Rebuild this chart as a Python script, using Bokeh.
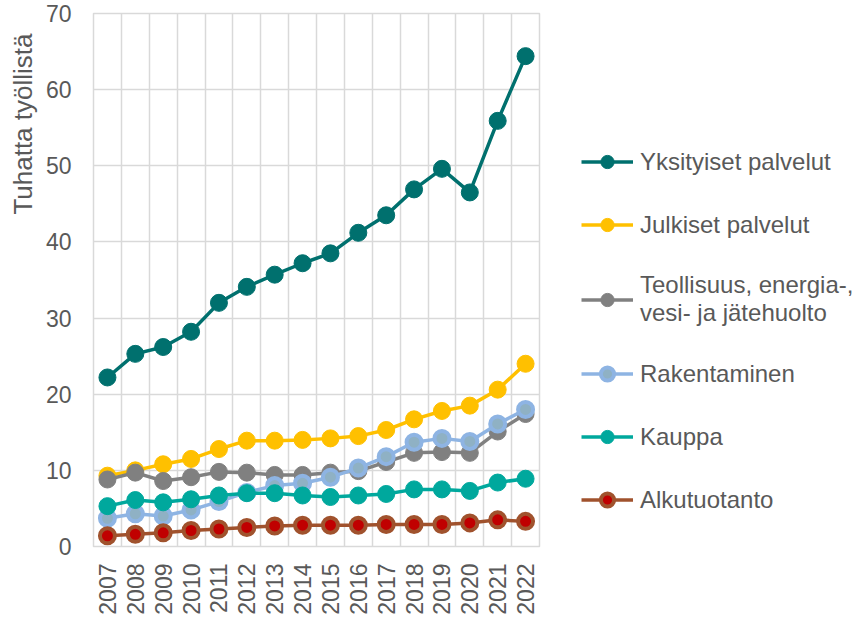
import math
from bokeh.plotting import figure
from bokeh.models import FixedTicker, Legend, LegendItem, Title
from bokeh.embed import file_html
from bokeh.resources import INLINE

years = list(range(2007, 2023))
yksityiset = [22.2, 25.3, 26.2, 28.2, 32.0, 34.1, 35.7, 37.2, 38.5, 41.2, 43.5, 46.9, 49.6, 46.5, 55.9, 64.4]
julkiset = [9.3, 10.0, 10.8, 11.5, 12.8, 13.9, 13.9, 14.0, 14.2, 14.5, 15.3, 16.7, 17.8, 18.5, 20.6, 24.0]
teollisuus = [8.8, 9.7, 8.6, 9.1, 9.8, 9.7, 9.4, 9.4, 9.7, 9.9, 11.1, 12.3, 12.4, 12.3, 15.1, 17.4]
rakentaminen = [3.7, 4.3, 4.0, 4.8, 5.9, 7.1, 8.0, 8.3, 9.1, 10.3, 11.8, 13.7, 14.2, 13.8, 16.1, 18.0]
kauppa = [5.3, 6.1, 5.8, 6.2, 6.7, 7.0, 7.0, 6.7, 6.5, 6.7, 6.9, 7.5, 7.5, 7.3, 8.4, 8.9]
alkutuotanto = [1.4, 1.6, 1.8, 2.1, 2.3, 2.5, 2.7, 2.8, 2.8, 2.8, 2.9, 2.9, 2.9, 3.1, 3.5, 3.3]

labels = ["Yksityiset palvelut", "Julkiset palvelut", "Teollisuus, energia-,\nvesi- ja jätehuolto",
          "Rakentaminen", "Kauppa", "Alkutuotanto"]
y_ticks = [0, 10, 20, 30, 40, 50, 60, 70]

series = [yksityiset, julkiset, teollisuus, rakentaminen, kauppa, alkutuotanto]
line_colors = ["#00706E", "#FFC000", "#808080", "#8EB4E3", "#00A89D", "#A0522D"]
fill_colors = ["#00706E", "#FFC000", "#808080", "#8FB1C4", "#00A89D", "#C00000"]
mline_colors = ["#00706E", "#FFC000", "#808080", "#8EB4E3", "#00A89D", "#A0522D"]

FONT = "Liberation Sans"
TXT = "#595959"
GRID = "#D9D9D9"

p = figure(frame_width=446, frame_height=533, output_backend="svg", toolbar_location=None,
           x_range=(years[0] - 0.5, years[-1] + 0.5), y_range=(y_ticks[0], y_ticks[-1]),
           min_border_left=87, min_border_top=13, min_border_bottom=70, min_border_right=320,
           background_fill_color="white", border_fill_color="white")
p.outline_line_color = GRID
p.outline_line_width = 1.5

items = []
for vals, lab, lc, fc, mc in zip(series, labels, line_colors, fill_colors, mline_colors):
    r1 = p.line(years, vals, line_color=lc, line_width=3.5)
    lw = 4 if fc != mc else 1
    r2 = p.scatter(years, vals, size=17 if fc == mc else 15, fill_color=fc, line_color=mc, line_width=lw)
    items.append(LegendItem(label=lab, renderers=[r1, r2]))

p.xaxis.ticker = FixedTicker(ticks=years)
p.xgrid.ticker = FixedTicker(ticks=[y - 0.5 for y in years] + [years[-1] + 0.5])
p.yaxis.ticker = FixedTicker(ticks=y_ticks)
for ax in (p.xaxis[0], p.yaxis[0]):
    ax.axis_line_color = None
    ax.major_tick_line_color = None
    ax.minor_tick_line_color = None
    ax.major_tick_out = 0
    ax.major_tick_in = 0
    ax.minor_tick_out = 0
    ax.minor_tick_in = 0
    ax.major_label_text_font = FONT
    ax.major_label_text_font_size = "23px"
    ax.major_label_text_color = TXT
p.xaxis.major_label_orientation = math.pi / 2
p.xaxis.major_label_standoff = 17
p.yaxis.major_label_standoff = 22
p.xgrid.grid_line_color = GRID
p.ygrid.grid_line_color = GRID
p.xgrid.grid_line_width = 1.5
p.ygrid.grid_line_width = 1.5

t = Title(text="Tuhatta työllistä", align="right", text_font=FONT, text_font_size="26px",
          text_font_style="normal", text_color=TXT, offset=20)
p.add_layout(t, "left")

legend = Legend(items=items, location=(42, 30), padding=0, margin=0, border_line_color=None,
                background_fill_alpha=0, label_text_font=FONT, label_text_font_size="24px",
                label_text_color=TXT, glyph_width=52, glyph_height=33, label_height=33,
                label_standoff=7, spacing=30)
p.add_layout(legend, "right")

open("out.html", "w").write(file_html(p, INLINE))
